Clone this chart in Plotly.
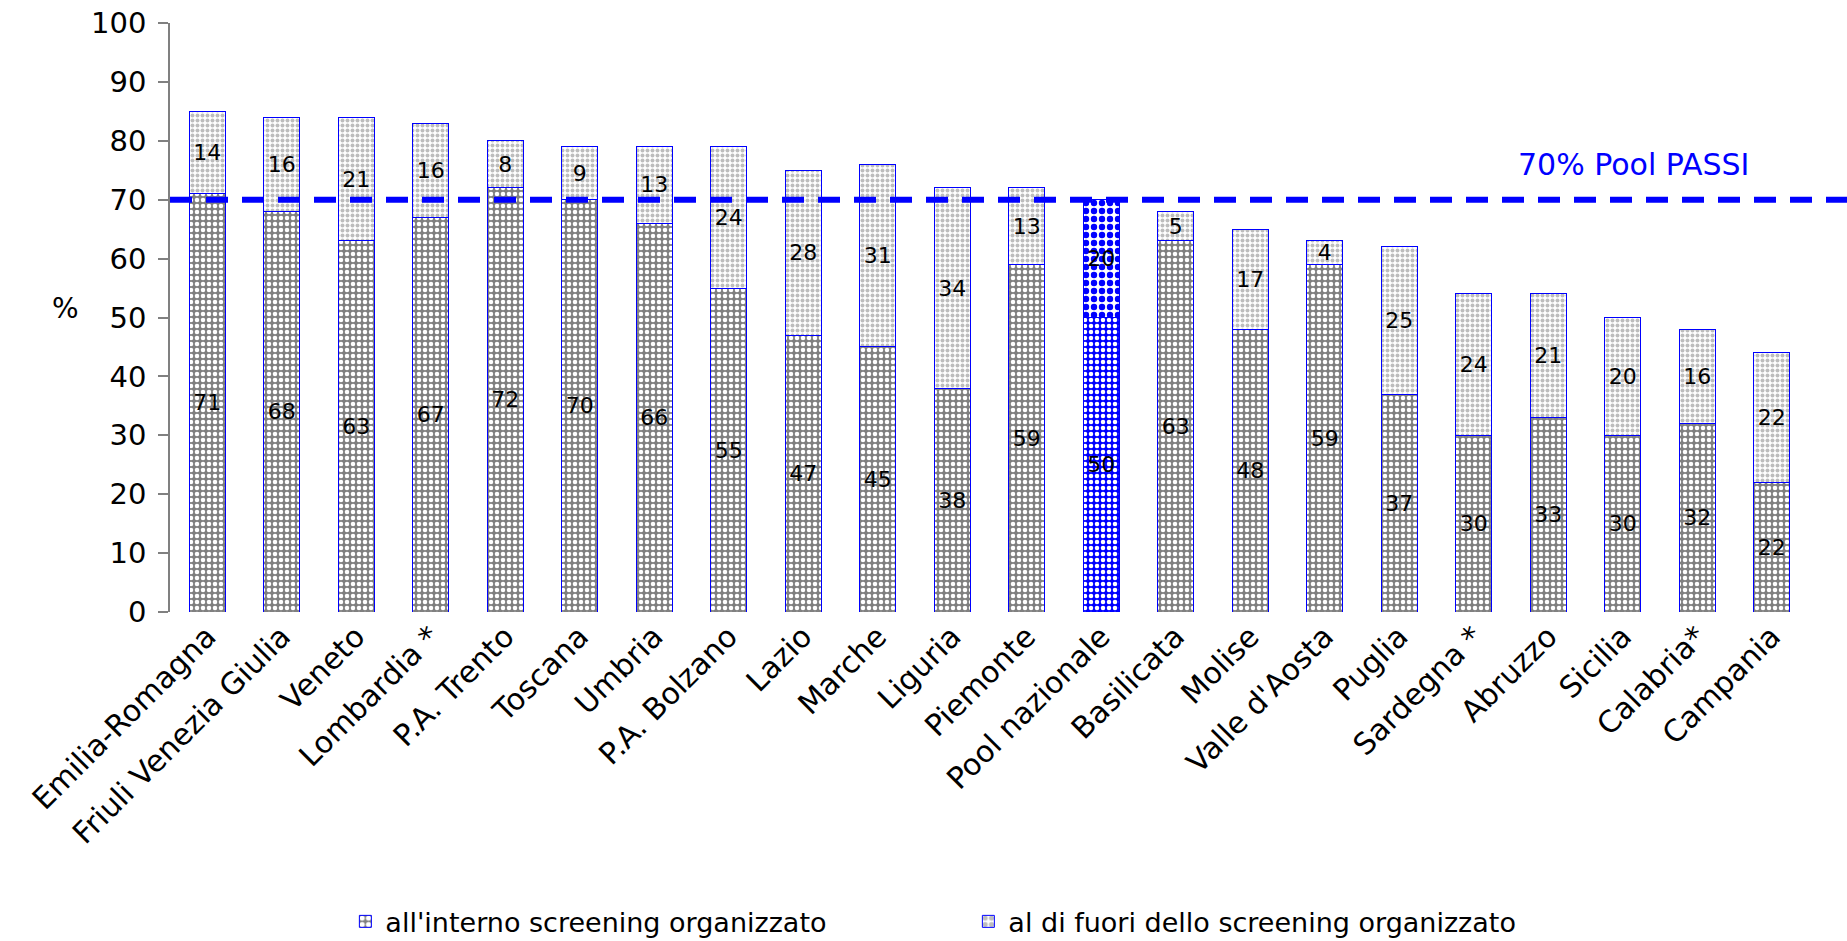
import plotly.graph_objects as go

regioni = [
    "Emilia-Romagna", "Friuli Venezia Giulia", "Veneto", "Lombardia *", "P.A. Trento",
    "Toscana", "Umbria", "P.A. Bolzano", "Lazio", "Marche", "Liguria", "Piemonte",
    "Pool nazionale", "Basilicata", "Molise", "Valle d'Aosta", "Puglia", "Sardegna *",
    "Abruzzo", "Sicilia", "Calabria*", "Campania",
]
interno = [71, 68, 63, 67, 72, 70, 66, 55, 47, 45, 38, 59, 50, 63, 48, 59, 37, 30, 33, 30, 32, 22]
esterno = [14, 16, 21, 16, 8, 9, 13, 24, 28, 31, 34, 13, 20, 5, 17, 4, 25, 24, 21, 20, 16, 22]
soglia_pool = 70
y_ticks = [0, 10, 20, 30, 40, 50, 60, 70, 80, 90, 100]

FONT = "DejaVu Sans"
BLUE = "#0000ff"
pool_idx = regioni.index("Pool nazionale")

def per_bar(default, pool_value):
    return [pool_value if i == pool_idx else default for i in range(len(regioni))]

fig = go.Figure()

fig.add_trace(go.Bar(
    x=regioni, y=interno, name="all'interno screening organizzato",
    text=[str(v) for v in interno], textposition="inside", insidetextanchor="middle",
    textangle=0,
    textfont=dict(family=FONT, size=22, color="black"),
    marker=dict(
        line=dict(color=BLUE, width=1),
        pattern=dict(
            shape=".", fillmode="replace",
            bgcolor=per_bar("#808080", BLUE),
            fgcolor=per_bar("white", "white"),
            size=per_bar(6, 6), solidity=per_bar(0.45, 0.45),
        ),
    ),
    width=0.48,
))

fig.add_trace(go.Bar(
    x=regioni, y=esterno, name="al di fuori dello screening organizzato",
    text=[str(v) for v in esterno], textposition="inside", insidetextanchor="middle",
    textangle=0,
    textfont=dict(family=FONT, size=22, color="black"),
    marker=dict(
        line=dict(color=BLUE, width=1),
        pattern=dict(
            shape=".", fillmode="replace",
            bgcolor=per_bar("white", "white"),
            fgcolor=per_bar("#bdbdbd", BLUE),
            size=per_bar(5, 8), solidity=per_bar(0.5, 0.5),
        ),
    ),
    width=0.48,
))

# Reference line for the national PASSI pool
fig.add_shape(
    type="line", xref="paper", yref="y", x0=0, x1=1.03, y0=soglia_pool, y1=soglia_pool,
    line=dict(color=BLUE, width=6, dash="22px,14px"), layer="above",
)
fig.add_annotation(
    xref="paper", yref="y", x=0.893, y=76, xanchor="center", yanchor="middle",
    text=f"{soglia_pool}% Pool PASSI",
    showarrow=False, font=dict(family=FONT, size=30, color=BLUE),
)
fig.add_annotation(
    xref="paper", yref="y", x=-0.064, y=51.5, xanchor="center", yanchor="middle",
    text="%",
    showarrow=False, font=dict(family=FONT, size=28, color="black"),
)

fig.update_layout(
    width=1847, height=941,
    barmode="stack",
    plot_bgcolor="white", paper_bgcolor="white",
    margin=dict(l=170, r=38, t=23, b=329, autoexpand=False),
    uniformtext=dict(minsize=22, mode="show"),
    showlegend=True,
    legend=dict(
        orientation="h", x=0.107, xanchor="left", y=-0.526, yanchor="middle",
        traceorder="normal",
        font=dict(family=FONT, size=27, color="black"),
        entrywidth=578, entrywidthmode="pixels",
        itemwidth=30,
    ),
    font=dict(family=FONT, color="black"),
)

fig.update_xaxes(
    tickangle=-45, tickfont=dict(family=FONT, size=30, color="black"),
    showline=False, showgrid=False, ticks="", automargin=False,
)
fig.update_yaxes(
    range=[0, 100], tickvals=y_ticks, ticktext=[str(v) for v in y_ticks],
    tickfont=dict(family=FONT, size=29, color="black"),
    showline=True, linecolor="#808080", linewidth=1.5,
    ticks="outside", ticklen=10, tickcolor="#808080", tickwidth=1.5,
    ticklabelstandoff=6, automargin=False,
    showgrid=False, zeroline=False,
)

fig.write_html("out.html")
